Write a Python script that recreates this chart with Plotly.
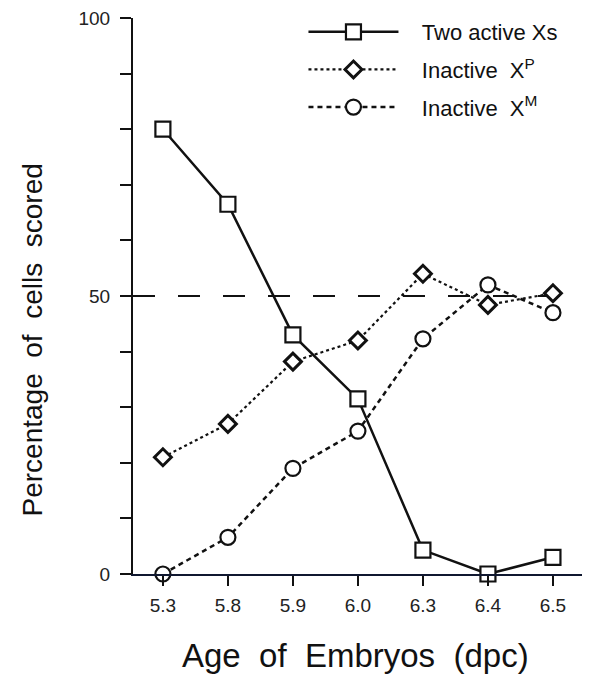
import plotly.graph_objects as go

ages = ["5.3", "5.8", "5.9", "6.0", "6.3", "6.4", "6.5"]
two_active = [80, 66.5, 43, 31.5, 4.3, 0, 3]
inactive_xp = [21, 27, 38.2, 42, 54, 48.4, 50.5]
inactive_xm = [0, 6.6, 19, 25.7, 42.3, 52, 47]

y_tickvals = [0, 50, 100]
y_ticktext = ["0", "50", "100"]

FONT = "Liberation Sans, Arial, Helvetica, sans-serif"
BLACK = "#111111"
NB = "\u00a0"

fig = go.Figure()

fig.add_trace(go.Scatter(
    x=ages, y=two_active, name=NB * 3 + "Two active Xs", mode="lines+markers",
    line=dict(color=BLACK, width=2.5, dash="solid"),
    marker=dict(symbol="square", size=15, color="white", line=dict(color=BLACK, width=2.2)),
    legendgroup="a", cliponaxis=False,
))
fig.add_trace(go.Scatter(
    x=ages, y=inactive_xp, name=NB * 3 + "Inactive  X<sup>P</sup>", mode="lines+markers",
    line=dict(color=BLACK, width=2.2, dash="dot"),
    marker=dict(symbol="diamond", size=13, color="white", line=dict(color=BLACK, width=3)),
    legendgroup="b", cliponaxis=False,
))
fig.add_trace(go.Scatter(
    x=ages, y=inactive_xm, name=NB * 3 + "Inactive  X<sup>M</sup>", mode="lines+markers",
    line=dict(color=BLACK, width=2.5, dash="5px,4px"),
    marker=dict(symbol="circle", size=15, color="white", line=dict(color=BLACK, width=2.2)),
    legendgroup="c", cliponaxis=False,
))

fig.add_shape(type="line", xref="paper", yref="y", x0=0, x1=1, y0=50, y1=50,
              line=dict(color=BLACK, width=2, dash="22px,23px"), layer="below")

fig.add_annotation(text="Age  of  Embryos  (dpc)", xref="paper", yref="paper",
                   x=0.486, y=0, yshift=-81, xanchor="center", yanchor="middle",
                   showarrow=False, font=dict(size=33, family=FONT, color=BLACK))
fig.add_annotation(text="Percentage  of  cells  scored", xref="paper", yref="paper",
                   x=0, xshift=-101, y=0.42, xanchor="center", yanchor="middle",
                   textangle=-90, showarrow=False,
                   font=dict(size=28, family=FONT, color=BLACK))

fig.update_layout(
    width=582, height=667,
    margin=dict(l=125, r=0, t=6, b=101),
    paper_bgcolor="white", plot_bgcolor="white",
    font=dict(family=FONT, color=BLACK),
    showlegend=True,
    legend=dict(
        x=0.373, y=1.0125, xanchor="left", yanchor="top",
        font=dict(size=22, family=FONT, color=BLACK),
        itemwidth=90, tracegroupgap=6, bgcolor="rgba(0,0,0,0)",
    ),
    xaxis=dict(
        type="category", range=[-0.46, 6.57],
        showline=True, linecolor="#101830", linewidth=2,
        ticks="outside", ticklen=10, tickwidth=2, tickcolor=BLACK,
        showgrid=False, zeroline=False, ticklabelstandoff=3,
        tickfont=dict(size=19, family=FONT, color="#222222"),
    ),
    yaxis=dict(
        range=[0, 100],
        showline=True, linecolor=BLACK, linewidth=2,
        ticks="outside", ticklen=11, tickwidth=2, tickcolor=BLACK,
        tickvals=y_tickvals, ticktext=y_ticktext, ticklabelstandoff=6,
        ticklabeloverflow="allow",
        minor=dict(ticks="outside", dtick=10, tick0=0, ticklen=11, tickwidth=2,
                   tickcolor=BLACK, showgrid=False),
        showgrid=False, zeroline=False,
        tickfont=dict(size=19, family=FONT, color="#222222"),
    ),
)

fig.write_html("out.html")
